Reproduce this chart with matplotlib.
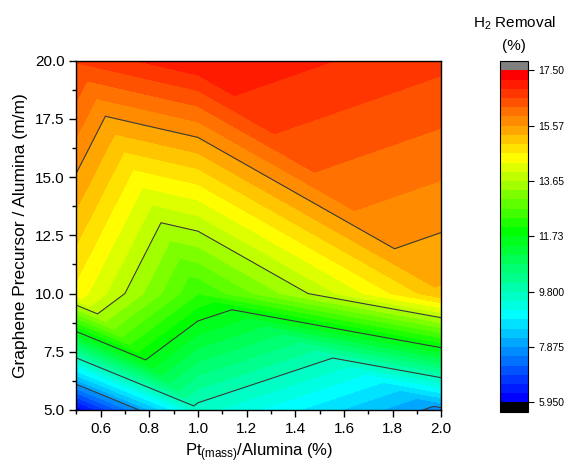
import numpy as np
import matplotlib
matplotlib.use('Agg')
import matplotlib.pyplot as plt
import matplotlib.tri as mtri
from matplotlib.colors import ListedColormap, BoundaryNorm, LinearSegmentedColormap
from matplotlib.ticker import MultipleLocator, FormatStrFormatter

plt.rcParams['font.family'] = ['Liberation Sans', 'DejaVu Sans']
plt.rcParams['mathtext.fontset'] = 'custom'
plt.rcParams['mathtext.rm'] = 'Liberation Sans'
plt.rcParams['mathtext.it'] = 'Liberation Sans:italic'

# ---- data (3 x 3 design) ----
pt_alumina = [0.5, 1.0, 2.0]            # x: Pt(mass)/Alumina (%)
precursor = [5.0, 10.0, 20.0]           # y: Graphene precursor / Alumina (m/m)
h2_at_5 = [6.00, 9.63, 7.73]
h2_at_10 = [14.50, 12.37, 15.20]
h2_at_20 = [16.58, 17.15, 16.63]

cbar_ticks = [5.950, 7.875, 9.800, 11.725, 13.650, 15.575, 17.500]
cbar_labels = ['5.950', '7.875', '9.800', '11.73', '13.65', '15.57', '17.50']

# ---- build triangulation ----
X, Y = np.meshgrid(pt_alumina, precursor)
Z = np.array([h2_at_5, h2_at_10, h2_at_20])
x = X.ravel(); y = Y.ravel(); z = Z.ravel()
nx = len(pt_alumina); ny = len(precursor)
tris = []
for r in range(ny - 1):
    for c in range(nx - 1):
        bl = r * nx + c; br = bl + 1
        tl = (r + 1) * nx + c; tr = tl + 1
        tris.append([bl, br, tl])
        tris.append([tl, br, tr])
tri = mtri.Triangulation(x, y, tris)

levels = np.linspace(5.95, 17.5, 37)
line_levels = levels[6:-1:6]

nodes = [(0.0, (0, 0, 1)), (9 / 35, (0, 1, 1)), (18 / 35, (0, 1, 0)),
         (26 / 35, (1, 1, 0)), (1.0, (1, 0, 0))]
base = LinearSegmentedColormap.from_list('rb', nodes)
cols = base(np.linspace(0, 1, 36))
cmap = ListedColormap(cols)
cmap.set_under('black')
cmap.set_over('#808080')
norm = BoundaryNorm(levels, 36)

fig = plt.figure(figsize=(5.7, 4.65), dpi=100)
ax = fig.add_axes([0.1339, 0.1183, 0.6403, 0.7512])
cf = ax.tricontourf(tri, z, levels=levels, cmap=cmap, norm=norm, extend='both')
ax.tricontour(tri, z, levels=line_levels, colors='#3a3a3a', linewidths=0.8)

ax.set_xlim(0.5, 2.0)
ax.set_ylim(5.0, 20.0)
ax.xaxis.set_major_locator(MultipleLocator(0.2))
ax.xaxis.set_minor_locator(MultipleLocator(0.1))
ax.yaxis.set_major_locator(MultipleLocator(2.5))
ax.yaxis.set_minor_locator(MultipleLocator(1.25))
ax.xaxis.set_major_formatter(FormatStrFormatter('%.1f'))
ax.yaxis.set_major_formatter(FormatStrFormatter('%.1f'))
ax.tick_params(which='both', direction='out', top=False, right=False, labelsize=11)
ax.tick_params(which='major', length=5, width=1)
ax.tick_params(which='minor', length=3, width=1)
for s in ax.spines.values():
    s.set_linewidth(1.0)
ax.set_xlabel('Pt$_{\\mathrm{(mass)}}$/Alumina (%)', fontsize=12, labelpad=4)
ax.set_ylabel('Graphene Precursor / Alumina (m/m)', fontsize=12.5, labelpad=5)

cax = fig.add_axes([0.877, 0.1146, 0.049, 0.754])
cb = fig.colorbar(cf, cax=cax, extendrect=True, extendfrac=1 / 36)
cb.set_ticks(cbar_ticks)
cb.set_ticklabels(cbar_labels)
cb.ax.tick_params(labelsize=7.5, length=4, width=0.8, direction='out')
cb.outline.set_linewidth(0.8)
cb.ax.minorticks_off()

fig.text(0.902, 0.950, 'H$_{\\mathrm{2}}$ Removal', ha='center', va='center', fontsize=11)
fig.text(0.902, 0.902, '(%)', ha='center', va='center', fontsize=11)

fig.savefig('out.png', dpi=100)
